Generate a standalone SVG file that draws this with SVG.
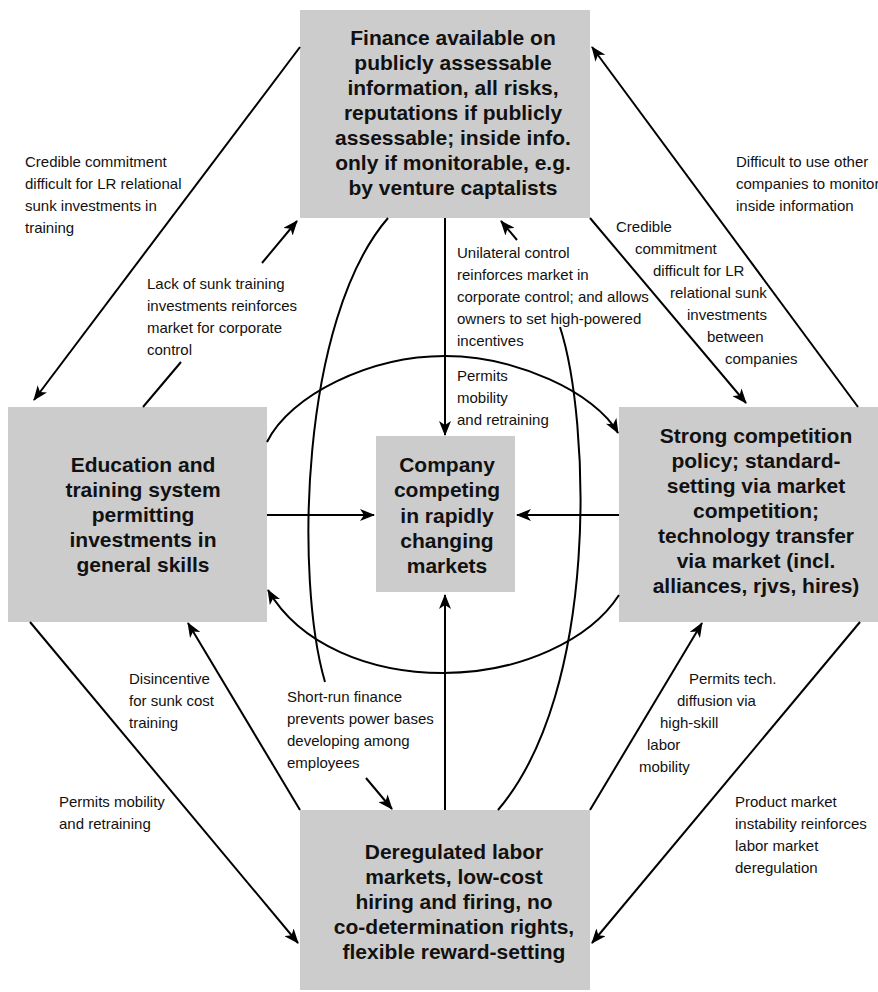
<svg xmlns="http://www.w3.org/2000/svg" width="878" height="992" viewBox="0 0 878 992">
<style>
.box{fill:#cccccc;stroke:none}
.bt{font-family:"Liberation Sans",Arial,sans-serif;font-weight:bold;font-size:21px;fill:#111;text-anchor:middle}
.lb{font-family:"Liberation Sans",Arial,sans-serif;font-size:15px;fill:#111}
.c{fill:none;stroke:#000;stroke-width:2}
.a{marker-end:url(#ah)}
</style>
<defs>
<marker id="ah" viewBox="0 0 15 12" refX="14" refY="6" markerWidth="15" markerHeight="12" orient="auto" markerUnits="userSpaceOnUse">
<path d="M0,0 L15,6 L0,12 L4,6 z" fill="#000"/>
</marker>
</defs>
<rect width="878" height="992" fill="#fff"/>

<g id="node-finance">
<rect class="box" x="300" y="10" width="290" height="208"/>
<text class="bt" x="453" y="45">Finance available on</text>
<text class="bt" x="453" y="70">publicly assessable</text>
<text class="bt" x="453" y="95">information, all risks,</text>
<text class="bt" x="453" y="120">reputations if publicly</text>
<text class="bt" x="453" y="145">assessable; inside info.</text>
<text class="bt" x="453" y="170">only if monitorable, e.g.</text>
<text class="bt" x="453" y="195">by venture captalists</text>
</g>

<g id="node-education">
<rect class="box" x="8" y="407" width="259" height="215"/>
<text class="bt" x="143" y="472">Education and</text>
<text class="bt" x="143" y="497">training system</text>
<text class="bt" x="143" y="522">permitting</text>
<text class="bt" x="143" y="547">investments in</text>
<text class="bt" x="143" y="572">general skills</text>
</g>

<g id="node-competition">
<rect class="box" x="619" y="407" width="259" height="215"/>
<text class="bt" x="756" y="443">Strong competition</text>
<text class="bt" x="756" y="468">policy; standard-</text>
<text class="bt" x="756" y="493">setting via market</text>
<text class="bt" x="756" y="518">competition;</text>
<text class="bt" x="756" y="543">technology transfer</text>
<text class="bt" x="756" y="568">via market (incl.</text>
<text class="bt" x="756" y="593">alliances, rjvs, hires)</text>
</g>

<g id="node-company">
<rect class="box" x="376" y="436" width="139" height="156"/>
<text class="bt" x="447" y="472">Company</text>
<text class="bt" x="447" y="497">competing</text>
<text class="bt" x="447" y="523">in rapidly</text>
<text class="bt" x="447" y="548">changing</text>
<text class="bt" x="447" y="573">markets</text>
</g>

<g id="node-labor">
<rect class="box" x="300" y="810" width="290" height="180"/>
<text class="bt" x="454" y="859">Deregulated labor</text>
<text class="bt" x="454" y="884">markets, low-cost</text>
<text class="bt" x="454" y="909">hiring and firing, no</text>
<text class="bt" x="454" y="934">co-determination rights,</text>
<text class="bt" x="454" y="959">flexible reward-setting</text>
</g>

<g id="connectors">
<!-- finance -> education -->
<line class="c a" x1="300" y1="47" x2="34" y2="400"/>
<!-- education -> finance (lack of sunk training) -->
<line class="c" x1="143" y1="407" x2="181" y2="362"/>
<line class="c a" x1="262" y1="263" x2="297" y2="221"/>
<!-- competition -> finance -->
<line class="c a" x1="858" y1="407" x2="592" y2="47"/>
<!-- finance -> competition -->
<line class="c a" x1="590" y1="218" x2="746" y2="403"/>
<!-- finance -> company -->
<line class="c a" x1="445" y1="218" x2="445" y2="435"/>
<!-- education -> company -->
<line class="c a" x1="267" y1="515" x2="374" y2="515"/>
<!-- competition -> company -->
<line class="c a" x1="619" y1="515" x2="517" y2="515"/>
<!-- labor -> company -->
<line class="c a" x1="445" y1="810" x2="445" y2="595"/>
<!-- upper arc education -> competition -->
<path class="c a" d="M267,442 C290,395 370,356 445,356 C515,356 595,392 618,433"/>
<!-- lower arc competition -> education -->
<path class="c a" d="M619,595 C590,640 520,673 443,673 C370,673 300,645 268,590"/>
<!-- left vertical curve finance -> labor -->
<path class="c" d="M388,218 C300,320 295,580 325,682"/>
<line class="c a" x1="366" y1="778" x2="392" y2="809"/>
<!-- right vertical curve labor -> finance -->
<path class="c" d="M498,810 C600,690 590,420 560,327"/>
<line class="c a" x1="517" y1="240" x2="501" y2="221"/>
<!-- labor -> education -->
<line class="c a" x1="300" y1="810" x2="188" y2="623"/>
<!-- education -> labor -->
<line class="c a" x1="30" y1="622" x2="298" y2="943"/>
<!-- labor -> competition -->
<line class="c a" x1="590" y1="810" x2="702" y2="623"/>
<!-- competition -> labor -->
<line class="c a" x1="860" y1="622" x2="592" y2="943"/>
</g>

<g id="edge-labels">
<text class="lb" x="25" y="167">Credible commitment</text>
<text class="lb" x="25" y="189">difficult for LR relational</text>
<text class="lb" x="25" y="211">sunk investments in</text>
<text class="lb" x="25" y="233">training</text>

<text class="lb" x="147" y="289">Lack of sunk training</text>
<text class="lb" x="147" y="311">investments reinforces</text>
<text class="lb" x="147" y="333">market for corporate</text>
<text class="lb" x="147" y="355">control</text>

<text class="lb" x="736" y="167">Difficult to use other</text>
<text class="lb" x="736" y="189">companies to monitor</text>
<text class="lb" x="736" y="211">inside information</text>

<text class="lb" x="616" y="232">Credible</text>
<text class="lb" x="635" y="254">commitment</text>
<text class="lb" x="653" y="276">difficult for LR</text>
<text class="lb" x="670" y="298">relational sunk</text>
<text class="lb" x="687" y="320">investments</text>
<text class="lb" x="707" y="342">between</text>
<text class="lb" x="725" y="364">companies</text>

<text class="lb" x="457" y="258">Unilateral control</text>
<text class="lb" x="457" y="280">reinforces market in</text>
<text class="lb" x="457" y="302">corporate control; and allows</text>
<text class="lb" x="457" y="324">owners to set high-powered</text>
<text class="lb" x="457" y="346">incentives</text>

<text class="lb" x="457" y="381">Permits</text>
<text class="lb" x="457" y="403">mobility</text>
<text class="lb" x="457" y="425">and retraining</text>

<text class="lb" x="129" y="684">Disincentive</text>
<text class="lb" x="129" y="706">for sunk cost</text>
<text class="lb" x="129" y="728">training</text>

<text class="lb" x="287" y="702">Short-run finance</text>
<text class="lb" x="287" y="724">prevents power bases</text>
<text class="lb" x="287" y="746">developing among</text>
<text class="lb" x="287" y="768">employees</text>

<text class="lb" x="59" y="807">Permits mobility</text>
<text class="lb" x="59" y="829">and retraining</text>

<text class="lb" x="689" y="684">Permits tech.</text>
<text class="lb" x="677" y="706">diffusion via</text>
<text class="lb" x="660" y="728">high-skill</text>
<text class="lb" x="647" y="750">labor</text>
<text class="lb" x="639" y="772">mobility</text>

<text class="lb" x="735" y="807">Product market</text>
<text class="lb" x="735" y="829">instability reinforces</text>
<text class="lb" x="735" y="851">labor market</text>
<text class="lb" x="735" y="873">deregulation</text>
</g>
</svg>
